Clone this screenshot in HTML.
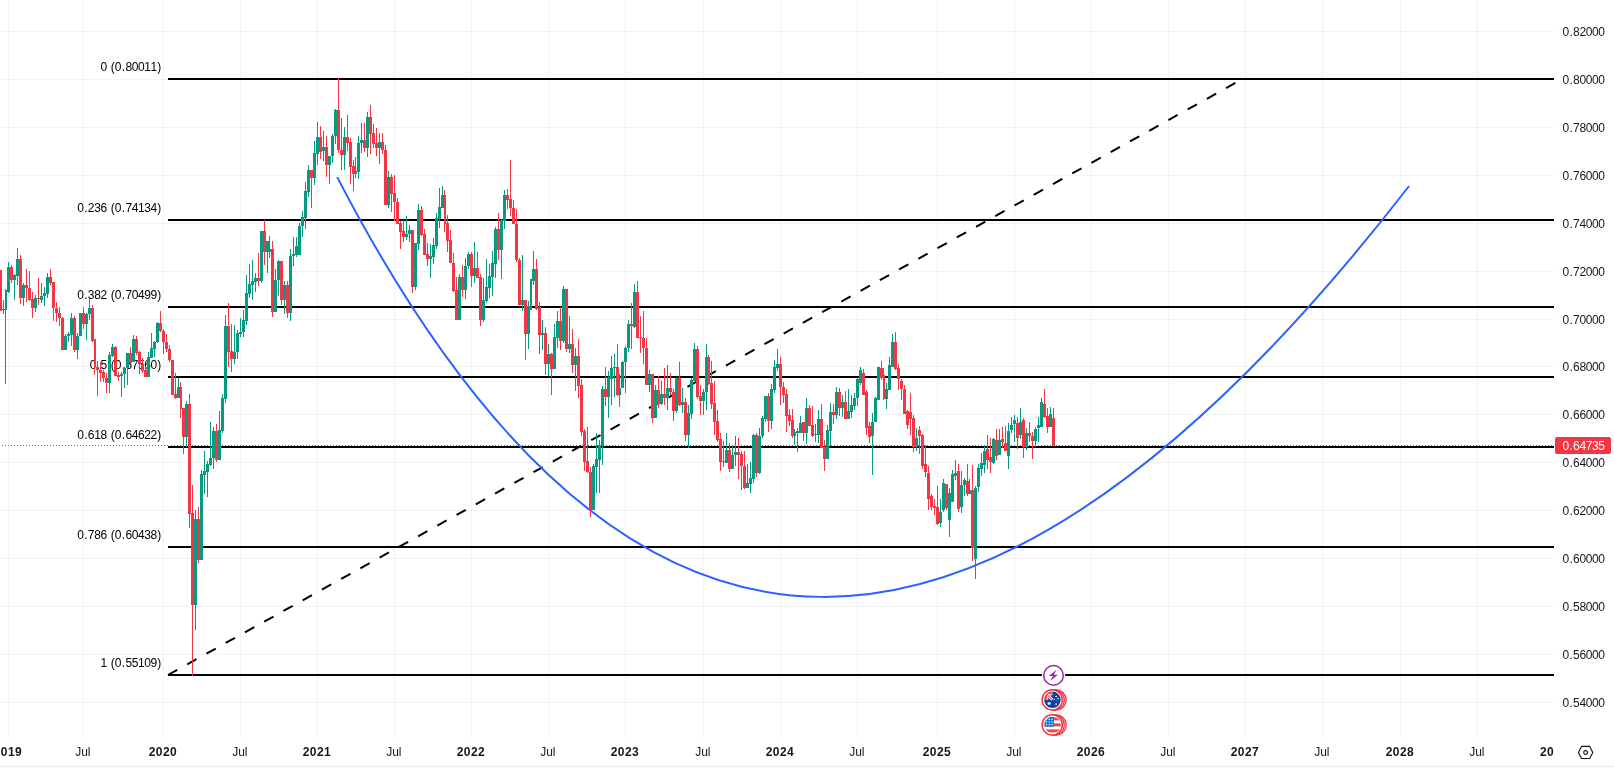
<!DOCTYPE html>
<html lang="en"><head><meta charset="utf-8"><title>AUDUSD chart</title>
<style>
html,body{margin:0;padding:0;background:#fff;}
body{width:1614px;height:773px;overflow:hidden;position:relative;font-family:"Liberation Sans",sans-serif;}
svg{position:absolute;left:0;top:0;display:block;will-change:transform}
text{font-family:"Liberation Sans",sans-serif;font-size:12px;fill:#131722}
.yr{font-weight:bold}
.fib{fill:#000}
</style></head><body>
<svg width="1614" height="773" viewBox="0 0 1614 773">
<rect width="1614" height="773" fill="#fff"/>
<g shape-rendering="crispEdges" fill="#2a2e39" fill-opacity="0.06">
<rect x="8" y="0" width="1" height="738"/>
<rect x="83" y="0" width="1" height="738"/>
<rect x="163" y="0" width="1" height="738"/>
<rect x="240" y="0" width="1" height="738"/>
<rect x="317" y="0" width="1" height="738"/>
<rect x="394" y="0" width="1" height="738"/>
<rect x="471" y="0" width="1" height="738"/>
<rect x="548" y="0" width="1" height="738"/>
<rect x="625" y="0" width="1" height="738"/>
<rect x="703" y="0" width="1" height="738"/>
<rect x="780" y="0" width="1" height="738"/>
<rect x="857" y="0" width="1" height="738"/>
<rect x="937" y="0" width="1" height="738"/>
<rect x="1014" y="0" width="1" height="738"/>
<rect x="1091" y="0" width="1" height="738"/>
<rect x="1168" y="0" width="1" height="738"/>
<rect x="1245" y="0" width="1" height="738"/>
<rect x="1322" y="0" width="1" height="738"/>
<rect x="1400" y="0" width="1" height="738"/>
<rect x="1477" y="0" width="1" height="738"/>
<rect x="0" y="31" width="1554" height="1"/>
<rect x="0" y="79" width="1554" height="1"/>
<rect x="0" y="127" width="1554" height="1"/>
<rect x="0" y="175" width="1554" height="1"/>
<rect x="0" y="223" width="1554" height="1"/>
<rect x="0" y="271" width="1554" height="1"/>
<rect x="0" y="319" width="1554" height="1"/>
<rect x="0" y="366" width="1554" height="1"/>
<rect x="0" y="414" width="1554" height="1"/>
<rect x="0" y="462" width="1554" height="1"/>
<rect x="0" y="510" width="1554" height="1"/>
<rect x="0" y="558" width="1554" height="1"/>
<rect x="0" y="606" width="1554" height="1"/>
<rect x="0" y="654" width="1554" height="1"/>
<rect x="0" y="702" width="1554" height="1"/>
</g>
<rect x="0" y="766" width="1614" height="1" fill="#eaeaeb" shape-rendering="crispEdges"/>
<line x1="2" y1="445.5" x2="170" y2="445.5" stroke="#f23645" stroke-width="1" stroke-dasharray="1 2" shape-rendering="crispEdges"/>
<line x1="171" y1="445.5" x2="1554" y2="445.5" stroke="#f23645" stroke-width="1" stroke-dasharray="1 2" shape-rendering="crispEdges"/>
<g id="fib">
<rect x="168" y="78" width="1386" height="2" fill="#000" shape-rendering="crispEdges"/>
<text class="fib" x="100.44 107.07 110.74 114.75 121.77 125.44 131.74 138.03 144.32 150.62 157.30" y="71">0 (0.80011)</text>
<rect x="168" y="219" width="1386" height="2" fill="#000" shape-rendering="crispEdges"/>
<text class="fib" x="77.16 84.18 87.86 94.15 100.44 107.07 110.74 114.75 121.77 125.44 131.74 138.03 144.32 150.62 157.30" y="212">0.236 (0.74134)</text>
<rect x="168" y="306" width="1386" height="2" fill="#000" shape-rendering="crispEdges"/>
<text class="fib" x="77.16 84.18 87.86 94.15 100.44 107.07 110.74 114.75 121.77 125.44 131.74 138.03 144.32 150.62 157.30" y="299">0.382 (0.70499)</text>
<rect x="168" y="376" width="1386" height="2" fill="#000" shape-rendering="crispEdges"/>
<text class="fib" x="89.75 96.77 100.44 107.07 110.74 114.75 121.77 125.44 131.74 138.03 144.32 150.62 157.30" y="369">0.5 (0.67560)</text>
<rect x="168" y="446" width="1386" height="2" fill="#000" shape-rendering="crispEdges"/>
<text class="fib" x="77.16 84.18 87.86 94.15 100.44 107.07 110.74 114.75 121.77 125.44 131.74 138.03 144.32 150.62 157.30" y="439">0.618 (0.64622)</text>
<rect x="168" y="546" width="1386" height="2" fill="#000" shape-rendering="crispEdges"/>
<text class="fib" x="77.16 84.18 87.86 94.15 100.44 107.07 110.74 114.75 121.77 125.44 131.74 138.03 144.32 150.62 157.30" y="539">0.786 (0.60438)</text>
<rect x="168" y="674" width="1386" height="2" fill="#000" shape-rendering="crispEdges"/>
<text class="fib" x="100.44 107.07 110.74 114.75 121.77 125.44 131.74 138.03 144.32 150.62 157.30" y="667">1 (0.55109)</text>
</g>
<line x1="168" y1="675" x2="1242.5" y2="79" stroke="#000" stroke-width="2" stroke-dasharray="10.6 11.4"/>
<path id="curve" d="M337.2,177.1 Q769.5,1012.2 1409.1,186" fill="none" stroke="#2962ff" stroke-width="2"/>
<g id="candles" shape-rendering="crispEdges">
<path fill="#f23645" d="M0 270h1v41h-1zM-1 270h3v41h-3z"/>
<path fill="#089981" d="M3 300h1v14h-1zM2 309h3v1h-3zM5 289h1v95h-1zM5 290h2v20h-2zM8 262h1v31h-1zM7 267h3v25h-3z"/>
<path fill="#f23645" d="M11 265h1v18h-1zM10 267h3v13h-3z"/>
<path fill="#089981" d="M14 274h1v26h-1zM13 275h3v5h-3zM17 248h1v37h-1zM16 259h3v17h-3z"/>
<path fill="#f23645" d="M20 255h1v49h-1zM19 259h3v39h-3z"/>
<path fill="#089981" d="M23 283h1v23h-1zM22 285h3v13h-3z"/>
<path fill="#f23645" d="M26 269h1v33h-1zM25 285h3v3h-3zM29 271h1v30h-1zM28 288h3v12h-3zM32 292h1v26h-1zM31 299h3v9h-3z"/>
<path fill="#089981" d="M35 295h1v17h-1zM34 298h3v10h-3z"/>
<path fill="#f23645" d="M38 278h1v27h-1zM37 298h3v1h-3z"/>
<path fill="#089981" d="M41 283h1v20h-1zM40 296h3v4h-3zM44 287h1v19h-1zM43 293h3v3h-3zM47 273h1v25h-1zM46 277h3v17h-3z"/>
<path fill="#f23645" d="M50 269h1v16h-1zM49 277h3v6h-3zM53 282h1v39h-1zM52 282h3v26h-3zM56 302h1v20h-1zM55 308h3v5h-3zM59 307h1v19h-1zM58 313h3v5h-3zM62 317h1v33h-1zM61 318h3v32h-3z"/>
<path fill="#089981" d="M65 334h1v16h-1zM64 336h3v14h-3zM68 332h1v10h-1zM67 334h3v2h-3zM71 313h1v33h-1zM70 318h3v17h-3z"/>
<path fill="#f23645" d="M74 316h1v36h-1zM73 318h3v32h-3z"/>
<path fill="#089981" d="M77 333h1v26h-1zM76 336h3v14h-3zM80 313h1v23h-1zM79 313h3v23h-3z"/>
<path fill="#f23645" d="M83 307h1v22h-1zM82 313h3v11h-3z"/>
<path fill="#089981" d="M86 313h1v27h-1zM85 314h3v10h-3zM89 298h1v22h-1zM88 308h3v6h-3z"/>
<path fill="#f23645" d="M92 305h1v37h-1zM91 308h3v33h-3zM94 339h1v36h-1zM94 339h2v28h-2zM97 361h1v35h-1zM96 367h3v3h-3zM100 362h1v20h-1zM99 370h3v3h-3zM103 370h1v12h-1zM102 372h3v6h-3zM106 373h1v20h-1zM105 378h3v5h-3z"/>
<path fill="#089981" d="M109 352h1v41h-1zM108 355h3v28h-3zM112 344h1v13h-1zM111 347h3v9h-3z"/>
<path fill="#f23645" d="M115 346h1v30h-1zM114 347h3v29h-3zM118 372h1v9h-1zM117 375h3v2h-3z"/>
<path fill="#089981" d="M121 372h1v25h-1zM120 374h3v2h-3zM124 367h1v21h-1zM123 368h3v6h-3zM127 353h1v32h-1zM126 353h3v15h-3z"/>
<path fill="#f23645" d="M130 347h1v17h-1zM129 353h3v10h-3z"/>
<path fill="#089981" d="M133 335h1v27h-1zM132 339h3v23h-3z"/>
<path fill="#f23645" d="M136 336h1v19h-1zM135 339h3v14h-3zM139 351h1v23h-1zM138 352h3v12h-3zM142 358h1v15h-1zM141 364h3v7h-3zM145 366h1v11h-1zM144 370h3v7h-3z"/>
<path fill="#089981" d="M148 352h1v25h-1zM147 357h3v20h-3zM151 333h1v25h-1zM150 348h3v10h-3zM154 341h1v16h-1zM153 342h3v7h-3zM157 322h1v21h-1zM156 323h3v19h-3z"/>
<path fill="#f23645" d="M160 311h1v21h-1zM159 323h3v8h-3zM163 329h1v25h-1zM162 331h3v11h-3zM166 334h1v18h-1zM165 342h3v7h-3zM169 345h1v17h-1zM168 349h3v11h-3zM172 360h1v35h-1zM171 360h3v35h-3zM175 373h1v26h-1zM174 394h3v4h-3z"/>
<path fill="#089981" d="M178 378h1v20h-1zM177 387h3v11h-3z"/>
<path fill="#f23645" d="M180 382h1v36h-1zM180 387h2v22h-2zM183 408h1v46h-1zM182 408h3v29h-3z"/>
<path fill="#089981" d="M186 401h1v46h-1zM185 404h3v33h-3z"/>
<path fill="#f23645" d="M189 394h1v134h-1zM188 404h3v110h-3zM192 485h1v191h-1zM191 513h3v92h-3z"/>
<path fill="#089981" d="M195 510h1v120h-1zM194 519h3v86h-3z"/>
<path fill="#f23645" d="M198 507h1v56h-1zM197 519h3v41h-3z"/>
<path fill="#089981" d="M201 470h1v90h-1zM200 474h3v86h-3zM204 451h1v43h-1zM203 471h3v4h-3zM207 461h1v36h-1zM206 464h3v8h-3zM210 422h1v44h-1zM209 458h3v7h-3zM213 427h1v42h-1zM212 431h3v27h-3z"/>
<path fill="#f23645" d="M216 424h1v38h-1zM215 431h3v29h-3z"/>
<path fill="#089981" d="M219 411h1v49h-1zM218 430h3v30h-3zM222 394h1v39h-1zM221 398h3v33h-3zM225 315h1v88h-1zM224 326h3v73h-3z"/>
<path fill="#f23645" d="M228 303h1v64h-1zM227 326h3v26h-3zM231 324h1v48h-1zM230 351h3v8h-3z"/>
<path fill="#089981" d="M234 325h1v39h-1zM233 352h3v7h-3zM237 330h1v29h-1zM236 333h3v19h-3zM240 318h1v19h-1zM239 332h3v2h-3zM243 310h1v27h-1zM242 320h3v12h-3zM246 275h1v50h-1zM245 293h3v28h-3zM249 264h1v34h-1zM248 284h3v10h-3zM252 260h1v40h-1zM251 281h3v4h-3zM255 273h1v19h-1zM254 278h3v4h-3z"/>
<path fill="#f23645" d="M258 253h1v33h-1zM257 278h3v3h-3z"/>
<path fill="#089981" d="M261 231h1v52h-1zM260 231h3v50h-3z"/>
<path fill="#f23645" d="M264 220h1v45h-1zM263 231h3v21h-3z"/>
<path fill="#089981" d="M267 241h1v32h-1zM266 241h3v11h-3zM269 236h1v22h-1zM269 249h2v3h-2z"/>
<path fill="#f23645" d="M272 241h1v76h-1zM271 249h3v63h-3z"/>
<path fill="#089981" d="M275 269h1v43h-1zM274 280h3v32h-3zM278 260h1v36h-1zM277 261h3v19h-3z"/>
<path fill="#f23645" d="M281 261h1v44h-1zM280 261h3v39h-3z"/>
<path fill="#089981" d="M284 281h1v33h-1zM283 285h3v15h-3z"/>
<path fill="#f23645" d="M287 281h1v37h-1zM286 285h3v28h-3z"/>
<path fill="#089981" d="M290 249h1v72h-1zM289 256h3v57h-3zM293 237h1v29h-1zM292 254h3v2h-3zM296 237h1v20h-1zM295 246h3v9h-3zM299 223h1v32h-1zM298 226h3v29h-3zM302 211h1v26h-1zM301 217h3v9h-3zM305 182h1v47h-1zM304 191h3v27h-3zM308 165h1v32h-1zM307 170h3v22h-3z"/>
<path fill="#f23645" d="M311 170h1v38h-1zM310 170h3v8h-3z"/>
<path fill="#089981" d="M314 141h1v44h-1zM313 153h3v25h-3zM317 122h1v43h-1zM316 137h3v17h-3z"/>
<path fill="#f23645" d="M320 126h1v33h-1zM319 137h3v15h-3z"/>
<path fill="#089981" d="M323 131h1v30h-1zM322 147h3v4h-3z"/>
<path fill="#f23645" d="M326 136h1v41h-1zM325 147h3v18h-3z"/>
<path fill="#089981" d="M329 156h1v28h-1zM328 156h3v9h-3zM332 134h1v29h-1zM331 136h3v20h-3zM335 109h1v35h-1zM334 110h3v26h-3z"/>
<path fill="#f23645" d="M338 78h1v75h-1zM337 110h3v40h-3zM341 118h1v52h-1zM340 150h3v5h-3z"/>
<path fill="#089981" d="M344 127h1v43h-1zM343 137h3v18h-3z"/>
<path fill="#f23645" d="M347 115h1v36h-1zM346 137h3v6h-3zM350 138h1v46h-1zM349 142h3v25h-3zM353 160h1v31h-1zM352 166h3v8h-3z"/>
<path fill="#089981" d="M355 157h1v21h-1zM355 171h2v3h-2zM358 136h1v43h-1zM357 143h3v29h-3zM361 123h1v30h-1zM360 140h3v3h-3z"/>
<path fill="#f23645" d="M364 123h1v29h-1zM363 140h3v8h-3z"/>
<path fill="#089981" d="M367 112h1v45h-1zM366 117h3v31h-3z"/>
<path fill="#f23645" d="M370 105h1v49h-1zM369 117h3v17h-3zM373 124h1v24h-1zM372 133h3v11h-3zM376 128h1v28h-1zM375 143h3v5h-3z"/>
<path fill="#089981" d="M379 133h1v31h-1zM378 142h3v6h-3z"/>
<path fill="#f23645" d="M382 133h1v21h-1zM381 142h3v8h-3zM385 145h1v60h-1zM384 150h3v55h-3z"/>
<path fill="#089981" d="M388 171h1v37h-1zM387 177h3v28h-3z"/>
<path fill="#f23645" d="M391 174h1v38h-1zM390 177h3v17h-3zM394 175h1v46h-1zM393 193h3v9h-3zM397 198h1v26h-1zM396 202h3v22h-3zM400 221h1v28h-1zM399 223h3v9h-3zM403 220h1v22h-1zM402 231h3v6h-3z"/>
<path fill="#089981" d="M406 216h1v24h-1zM405 234h3v3h-3zM409 225h1v17h-1zM408 230h3v4h-3z"/>
<path fill="#f23645" d="M412 230h1v63h-1zM411 230h3v57h-3z"/>
<path fill="#089981" d="M415 243h1v47h-1zM414 243h3v44h-3zM418 204h1v46h-1zM417 210h3v34h-3z"/>
<path fill="#f23645" d="M421 206h1v30h-1zM420 210h3v25h-3zM424 229h1v26h-1zM423 234h3v21h-3zM427 243h1v23h-1zM426 254h3v5h-3z"/>
<path fill="#089981" d="M430 244h1v34h-1zM429 256h3v3h-3zM433 238h1v26h-1zM432 245h3v12h-3zM436 213h1v36h-1zM435 218h3v28h-3zM439 188h1v40h-1zM438 207h3v12h-3zM442 186h1v22h-1zM441 195h3v13h-3z"/>
<path fill="#f23645" d="M444 190h1v42h-1zM444 195h2v29h-2zM447 215h1v37h-1zM446 223h3v18h-3zM450 230h1v33h-1zM449 240h3v23h-3zM453 253h1v39h-1zM452 263h3v28h-3zM456 277h1v43h-1zM455 290h3v30h-3z"/>
<path fill="#089981" d="M459 274h1v46h-1zM458 277h3v43h-3z"/>
<path fill="#f23645" d="M462 265h1v32h-1zM461 277h3v13h-3z"/>
<path fill="#089981" d="M465 258h1v41h-1zM464 266h3v24h-3zM468 252h1v17h-1zM467 254h3v12h-3z"/>
<path fill="#f23645" d="M471 252h1v35h-1zM470 254h3v22h-3z"/>
<path fill="#089981" d="M474 242h1v41h-1zM473 268h3v8h-3z"/>
<path fill="#f23645" d="M477 252h1v26h-1zM476 268h3v10h-3zM480 274h1v52h-1zM479 277h3v43h-3z"/>
<path fill="#089981" d="M483 278h1v44h-1zM482 300h3v20h-3zM486 259h1v44h-1zM485 287h3v14h-3zM489 264h1v34h-1zM488 276h3v12h-3zM492 251h1v45h-1zM491 263h3v14h-3zM495 227h1v51h-1zM494 229h3v35h-3z"/>
<path fill="#f23645" d="M498 213h1v47h-1zM497 229h3v21h-3z"/>
<path fill="#089981" d="M501 219h1v60h-1zM500 220h3v30h-3zM504 190h1v39h-1zM503 195h3v26h-3z"/>
<path fill="#f23645" d="M507 189h1v20h-1zM506 195h3v5h-3zM510 160h1v56h-1zM509 199h3v9h-3zM513 200h1v24h-1zM512 208h3v16h-3zM516 209h1v53h-1zM515 224h3v36h-3zM519 258h1v47h-1zM518 260h3v45h-3z"/>
<path fill="#089981" d="M522 255h1v56h-1zM521 300h3v5h-3z"/>
<path fill="#f23645" d="M525 300h1v60h-1zM524 300h3v34h-3z"/>
<path fill="#089981" d="M528 301h1v48h-1zM527 306h3v28h-3zM530 279h1v31h-1zM530 279h2v31h-2zM533 251h1v34h-1zM532 269h3v12h-3z"/>
<path fill="#f23645" d="M536 259h1v51h-1zM535 269h3v40h-3zM539 302h1v52h-1zM538 307h3v28h-3z"/>
<path fill="#089981" d="M542 320h1v30h-1zM541 333h3v2h-3z"/>
<path fill="#f23645" d="M545 327h1v48h-1zM544 333h3v31h-3z"/>
<path fill="#089981" d="M548 344h1v32h-1zM547 354h3v10h-3z"/>
<path fill="#f23645" d="M551 353h1v42h-1zM550 354h3v15h-3z"/>
<path fill="#089981" d="M554 324h1v45h-1zM553 337h3v32h-3zM557 311h1v37h-1zM556 321h3v17h-3z"/>
<path fill="#f23645" d="M560 307h1v43h-1zM559 321h3v20h-3z"/>
<path fill="#089981" d="M563 286h1v57h-1zM562 289h3v52h-3z"/>
<path fill="#f23645" d="M566 289h1v63h-1zM565 289h3v60h-3z"/>
<path fill="#089981" d="M569 316h1v37h-1zM568 344h3v5h-3z"/>
<path fill="#f23645" d="M572 329h1v44h-1zM571 344h3v21h-3z"/>
<path fill="#089981" d="M575 348h1v43h-1zM574 356h3v9h-3z"/>
<path fill="#f23645" d="M578 339h1v59h-1zM577 356h3v30h-3zM581 379h1v57h-1zM580 385h3v47h-3zM584 429h1v42h-1zM583 431h3v31h-3zM587 427h1v46h-1zM586 461h3v11h-3zM590 467h1v50h-1zM589 472h3v38h-3z"/>
<path fill="#089981" d="M593 464h1v46h-1zM592 466h3v44h-3zM596 433h1v60h-1zM595 459h3v8h-3zM599 440h1v53h-1zM598 445h3v15h-3zM602 386h1v79h-1zM601 389h3v57h-3z"/>
<path fill="#f23645" d="M605 367h1v39h-1zM604 389h3v8h-3z"/>
<path fill="#089981" d="M608 371h1v47h-1zM607 377h3v20h-3zM611 356h1v49h-1zM610 368h3v11h-3zM614 354h1v43h-1zM613 367h3v1h-3z"/>
<path fill="#f23645" d="M617 344h1v52h-1zM616 367h3v28h-3z"/>
<path fill="#089981" d="M619 374h1v33h-1zM619 388h2v7h-2zM622 361h1v27h-1zM621 362h3v26h-3zM625 346h1v47h-1zM624 348h3v14h-3zM628 320h1v32h-1zM627 324h3v24h-3z"/>
<path fill="#f23645" d="M631 303h1v46h-1zM630 324h3v2h-3z"/>
<path fill="#089981" d="M634 284h1v44h-1zM633 292h3v35h-3z"/>
<path fill="#f23645" d="M637 281h1v57h-1zM636 292h3v46h-3zM640 316h1v37h-1zM639 337h3v1h-3zM643 311h1v53h-1zM642 338h3v10h-3zM646 338h1v47h-1zM645 348h3v37h-3z"/>
<path fill="#089981" d="M649 370h1v22h-1zM648 374h3v11h-3z"/>
<path fill="#f23645" d="M652 374h1v49h-1zM651 374h3v44h-3z"/>
<path fill="#089981" d="M655 385h1v33h-1zM654 390h3v28h-3z"/>
<path fill="#f23645" d="M658 376h1v32h-1zM657 390h3v14h-3z"/>
<path fill="#089981" d="M661 381h1v24h-1zM660 394h3v10h-3z"/>
<path fill="#f23645" d="M664 368h1v37h-1zM663 394h3v4h-3z"/>
<path fill="#089981" d="M667 365h1v45h-1zM666 388h3v10h-3z"/>
<path fill="#f23645" d="M670 373h1v22h-1zM669 388h3v4h-3zM673 389h1v32h-1zM672 392h3v19h-3z"/>
<path fill="#089981" d="M676 377h1v36h-1zM675 378h3v33h-3z"/>
<path fill="#f23645" d="M679 362h1v44h-1zM678 378h3v27h-3z"/>
<path fill="#089981" d="M682 388h1v25h-1zM681 402h3v3h-3z"/>
<path fill="#f23645" d="M685 398h1v43h-1zM684 402h3v33h-3z"/>
<path fill="#089981" d="M688 405h1v43h-1zM687 413h3v22h-3zM691 378h1v41h-1zM690 380h3v34h-3zM694 343h1v38h-1zM693 349h3v32h-3z"/>
<path fill="#f23645" d="M697 346h1v53h-1zM696 349h3v48h-3zM700 385h1v30h-1zM699 396h3v5h-3z"/>
<path fill="#089981" d="M703 389h1v26h-1zM702 392h3v9h-3zM706 344h1v66h-1zM705 357h3v35h-3z"/>
<path fill="#f23645" d="M708 355h1v30h-1zM708 357h2v27h-2zM711 361h1v48h-1zM710 383h3v21h-3zM714 381h1v54h-1zM713 403h3v19h-3zM717 410h1v32h-1zM716 421h3v19h-3zM720 433h1v38h-1zM719 439h3v23h-3zM723 441h1v26h-1zM722 461h3v1h-3z"/>
<path fill="#089981" d="M726 433h1v30h-1zM725 450h3v13h-3z"/>
<path fill="#f23645" d="M729 443h1v29h-1zM728 450h3v19h-3z"/>
<path fill="#089981" d="M732 445h1v24h-1zM731 455h3v14h-3zM735 436h1v30h-1zM734 452h3v3h-3z"/>
<path fill="#f23645" d="M738 438h1v41h-1zM737 452h3v3h-3zM741 451h1v39h-1zM740 454h3v12h-3zM744 451h1v38h-1zM743 466h3v22h-3z"/>
<path fill="#089981" d="M747 464h1v24h-1zM746 483h3v5h-3zM750 462h1v31h-1zM749 478h3v6h-3zM753 434h1v49h-1zM752 435h3v44h-3z"/>
<path fill="#f23645" d="M756 433h1v44h-1zM755 435h3v38h-3z"/>
<path fill="#089981" d="M759 428h1v46h-1zM758 436h3v37h-3zM762 416h1v22h-1zM761 418h3v18h-3zM765 396h1v26h-1zM764 396h3v23h-3z"/>
<path fill="#f23645" d="M768 393h1v39h-1zM767 396h3v25h-3z"/>
<path fill="#089981" d="M771 384h1v45h-1zM770 389h3v32h-3zM774 360h1v33h-1zM773 367h3v23h-3zM777 349h1v22h-1zM776 364h3v4h-3z"/>
<path fill="#f23645" d="M780 357h1v48h-1zM779 364h3v23h-3zM783 382h1v21h-1zM782 387h3v8h-3zM786 389h1v43h-1zM785 394h3v22h-3zM789 409h1v17h-1zM788 415h3v6h-3zM792 409h1v29h-1zM791 420h3v16h-3z"/>
<path fill="#089981" d="M794 429h1v16h-1zM794 432h2v4h-2zM797 428h1v24h-1zM796 431h3v2h-3zM800 416h1v17h-1zM799 423h3v10h-3z"/>
<path fill="#f23645" d="M803 422h1v19h-1zM802 422h3v11h-3z"/>
<path fill="#089981" d="M806 398h1v46h-1zM805 408h3v25h-3z"/>
<path fill="#f23645" d="M809 405h1v21h-1zM808 408h3v18h-3zM812 406h1v31h-1zM811 425h3v11h-3z"/>
<path fill="#089981" d="M815 424h1v18h-1zM814 434h3v1h-3zM818 410h1v33h-1zM817 419h3v16h-3z"/>
<path fill="#f23645" d="M821 404h1v44h-1zM820 419h3v29h-3zM824 440h1v31h-1zM823 447h3v12h-3z"/>
<path fill="#089981" d="M827 425h1v34h-1zM826 430h3v29h-3zM830 403h1v43h-1zM829 412h3v19h-3z"/>
<path fill="#f23645" d="M833 404h1v20h-1zM832 412h3v3h-3z"/>
<path fill="#089981" d="M836 387h1v32h-1zM835 392h3v23h-3z"/>
<path fill="#f23645" d="M839 388h1v28h-1zM838 392h3v16h-3z"/>
<path fill="#089981" d="M842 395h1v22h-1zM841 402h3v6h-3z"/>
<path fill="#f23645" d="M845 391h1v28h-1zM844 402h3v17h-3z"/>
<path fill="#089981" d="M848 389h1v30h-1zM847 411h3v8h-3zM851 395h1v23h-1zM850 405h3v7h-3zM854 393h1v17h-1zM853 398h3v8h-3zM857 378h1v28h-1zM856 379h3v19h-3zM860 367h1v18h-1zM859 370h3v13h-3z"/>
<path fill="#f23645" d="M863 369h1v26h-1zM862 373h3v22h-3zM866 390h1v45h-1zM865 392h3v36h-3zM869 422h1v21h-1zM868 426h3v11h-3z"/>
<path fill="#089981" d="M872 413h1v62h-1zM871 422h3v14h-3zM875 397h1v25h-1zM874 398h3v24h-3zM878 367h1v33h-1zM877 367h3v33h-3z"/>
<path fill="#f23645" d="M881 361h1v19h-1zM880 368h3v10h-3zM883 368h1v32h-1zM883 375h2v24h-2z"/>
<path fill="#089981" d="M886 383h1v26h-1zM885 389h3v10h-3zM889 357h1v33h-1zM888 365h3v25h-3zM892 334h1v33h-1zM891 342h3v25h-3z"/>
<path fill="#f23645" d="M895 332h1v38h-1zM894 342h3v27h-3zM898 364h1v26h-1zM897 368h3v11h-3zM901 379h1v21h-1zM900 381h3v8h-3zM904 385h1v29h-1zM903 389h3v25h-3zM907 410h1v19h-1zM906 411h3v14h-3zM910 393h1v42h-1zM909 412h3v7h-3zM913 415h1v37h-1zM912 418h3v29h-3z"/>
<path fill="#089981" d="M916 428h1v23h-1zM915 438h3v9h-3z"/>
<path fill="#f23645" d="M919 426h1v28h-1zM918 430h3v6h-3zM922 434h1v35h-1zM921 435h3v31h-3zM925 445h1v32h-1zM924 464h3v8h-3zM928 466h1v44h-1zM927 473h3v26h-3zM931 494h1v16h-1zM930 496h3v11h-3zM934 499h1v16h-1zM933 506h3v2h-3zM937 486h1v39h-1zM936 507h3v17h-3z"/>
<path fill="#089981" d="M940 499h1v28h-1zM939 512h3v11h-3zM943 479h1v33h-1zM942 483h3v27h-3z"/>
<path fill="#f23645" d="M946 484h1v26h-1zM945 484h3v24h-3z"/>
<path fill="#089981" d="M949 488h1v49h-1zM948 493h3v27h-3zM952 470h1v32h-1zM951 474h3v28h-3zM955 460h1v20h-1zM954 473h3v3h-3z"/>
<path fill="#f23645" d="M958 464h1v48h-1zM957 471h3v38h-3z"/>
<path fill="#089981" d="M961 471h1v42h-1zM960 485h3v22h-3zM964 478h1v18h-1zM963 480h3v5h-3z"/>
<path fill="#f23645" d="M967 464h1v32h-1zM966 481h3v13h-3z"/>
<path fill="#089981" d="M969 479h1v15h-1zM969 490h2v4h-2z"/>
<path fill="#f23645" d="M972 465h1v96h-1zM971 490h3v58h-3z"/>
<path fill="#089981" d="M975 486h1v93h-1zM974 488h3v71h-3zM978 464h1v28h-1zM977 468h3v19h-3zM981 453h1v23h-1zM980 463h3v6h-3zM984 446h1v27h-1zM983 451h3v14h-3z"/>
<path fill="#f23645" d="M987 435h1v34h-1zM986 449h3v11h-3zM990 438h1v35h-1zM989 457h3v5h-3z"/>
<path fill="#089981" d="M993 438h1v26h-1zM992 439h3v24h-3z"/>
<path fill="#f23645" d="M996 429h1v31h-1zM995 440h3v16h-3z"/>
<path fill="#089981" d="M999 429h1v26h-1zM998 440h3v15h-3z"/>
<path fill="#f23645" d="M1002 427h1v21h-1zM1001 439h3v3h-3zM1005 426h1v25h-1zM1004 443h3v8h-3z"/>
<path fill="#089981" d="M1008 423h1v46h-1zM1007 431h3v25h-3zM1011 417h1v16h-1zM1010 425h3v5h-3zM1014 415h1v27h-1zM1013 420h3v4h-3z"/>
<path fill="#f23645" d="M1017 417h1v32h-1zM1016 423h3v15h-3z"/>
<path fill="#089981" d="M1020 408h1v31h-1zM1019 422h3v13h-3z"/>
<path fill="#f23645" d="M1023 418h1v40h-1zM1022 420h3v27h-3z"/>
<path fill="#089981" d="M1026 428h1v22h-1zM1025 433h3v14h-3z"/>
<path fill="#f23645" d="M1029 422h1v20h-1zM1028 433h3v3h-3zM1032 432h1v27h-1zM1031 436h3v5h-3z"/>
<path fill="#089981" d="M1035 427h1v20h-1zM1034 429h3v12h-3zM1038 417h1v25h-1zM1037 425h3v3h-3zM1041 398h1v29h-1zM1040 402h3v25h-3z"/>
<path fill="#f23645" d="M1044 389h1v29h-1zM1043 404h3v13h-3zM1047 408h1v25h-1zM1046 416h3v11h-3z"/>
<path fill="#089981" d="M1050 407h1v20h-1zM1049 414h3v13h-3z"/>
<path fill="#f23645" d="M1053 408h1v38h-1zM1052 418h3v28h-3z"/>
</g>
<g id="icons">
<defs>
<clipPath id="cf"><circle cx="0" cy="0" r="8.25"/></clipPath>
</defs>
<!-- lightning / latest-update marker -->
<g transform="translate(1053.5,675.4)">
<circle r="11.6" fill="#fff"/>
<circle r="9.8" fill="#fff" stroke="#9c27b0" stroke-width="1.5"/>
<path d="M3.0,-5.6 L-4.7,0.7 L-0.7,0.7 L-3.3,5.6 L4.4,-0.7 L0.4,-0.7 Z" fill="#9c27b0"/>
</g>
<!-- AU events -->
<g transform="translate(1052.2,699.95)">
<circle cx="3.8" r="10.15" fill="#fff" stroke="#f23645" stroke-width="1.2"/>
<circle cx="1.95" r="10.15" fill="#fff" stroke="#f23645" stroke-width="1.2"/>
<circle cx="1.2" r="8.2" fill="#7a5aa8" opacity="0.55"/>
<circle r="10.1" fill="#fff" stroke="#f23645" stroke-width="1.5"/>
<g transform="translate(0.2,-0.1)" clip-path="url(#cf)">
<rect x="-9" y="-9" width="18" height="18" fill="#1040a0"/>
<path d="M-9,-9 H0 V-4.6 H-4.2 V0 H-9 Z" fill="#fff"/>
<path d="M-9,-9 L0,0" stroke="#fff" stroke-width="2.8" fill="none"/>
<path d="M-9,-9 H0 V-5.6 H-5.2 V0 H-9 Z" fill="#f0534f"/>
<path d="M-9,-9 L-0.2,-0.2" stroke="#f0534f" stroke-width="1.1" fill="none"/>
<ellipse cx="-3.3" cy="3.7" rx="1.6" ry="1.3" fill="#fff"/>
<ellipse cx="3.7" cy="-3.4" rx="1.0" ry="0.6" fill="#fff"/>
<ellipse cx="5.6" cy="-1.3" rx="1.0" ry="0.6" fill="#fff"/>
<ellipse cx="1.8" cy="-0.5" rx="0.8" ry="0.55" fill="#fff"/>
<ellipse cx="4.5" cy="0.9" rx="0.7" ry="0.45" fill="#fff" opacity="0.5"/>
<ellipse cx="3.7" cy="4.3" rx="0.9" ry="0.8" fill="#fff" opacity="0.9"/>
</g>
</g>
<!-- US events -->
<g transform="translate(1052.2,724.9)">
<circle cx="3.8" r="10.15" fill="#fff" stroke="#f23645" stroke-width="1.2"/>
<circle cx="1.95" r="10.15" fill="#fff" stroke="#f23645" stroke-width="1.2"/>
<circle r="10.1" fill="#fff" stroke="#f23645" stroke-width="1.5"/>
<g transform="translate(0.4,0)" clip-path="url(#cf)">
<rect x="-9" y="-9" width="18" height="18" fill="#fff"/>
<rect x="-9" y="-7.7" width="18" height="3.1" fill="#ea4b46"/>
<rect x="-9" y="-1.6" width="18" height="3.1" fill="#ea4b46"/>
<rect x="-9" y="4.5" width="18" height="3.1" fill="#ea4b46"/>
<rect x="-9" y="-9" width="10.4" height="10.8" fill="#1976d2"/>
<g fill="#fff">
<rect x="-6.7" y="-6.1" width="1.2" height="1.2"/><rect x="-3.9" y="-6.1" width="1.2" height="1.2"/><rect x="-1.1" y="-6.1" width="1.2" height="1.2"/>
<rect x="-6.7" y="-3.65" width="1.2" height="1.2"/><rect x="-3.9" y="-3.65" width="1.2" height="1.2"/><rect x="-1.1" y="-3.65" width="1.2" height="1.2"/>
<rect x="-6.7" y="-1.0" width="1.2" height="1.2"/><rect x="-3.9" y="-1.0" width="1.2" height="1.2"/><rect x="-1.1" y="-1.0" width="1.2" height="1.2"/>
</g>
</g>
</g>
</g>

<g id="paxis">
<text x="1562.41 1569.42 1573.10 1579.40 1585.69 1591.98 1598.27" y="35.8">0.82000</text>
<text x="1562.41 1569.42 1573.10 1579.40 1585.69 1591.98 1598.27" y="83.8">0.80000</text>
<text x="1562.41 1569.42 1573.10 1579.40 1585.69 1591.98 1598.27" y="131.8">0.78000</text>
<text x="1562.41 1569.42 1573.10 1579.40 1585.69 1591.98 1598.27" y="179.8">0.76000</text>
<text x="1562.41 1569.42 1573.10 1579.40 1585.69 1591.98 1598.27" y="227.8">0.74000</text>
<text x="1562.41 1569.42 1573.10 1579.40 1585.69 1591.98 1598.27" y="275.8">0.72000</text>
<text x="1562.41 1569.42 1573.10 1579.40 1585.69 1591.98 1598.27" y="323.8">0.70000</text>
<text x="1562.41 1569.42 1573.10 1579.40 1585.69 1591.98 1598.27" y="370.8">0.68000</text>
<text x="1562.41 1569.42 1573.10 1579.40 1585.69 1591.98 1598.27" y="418.8">0.66000</text>
<text x="1562.41 1569.42 1573.10 1579.40 1585.69 1591.98 1598.27" y="466.8">0.64000</text>
<text x="1562.41 1569.42 1573.10 1579.40 1585.69 1591.98 1598.27" y="514.8">0.62000</text>
<text x="1562.41 1569.42 1573.10 1579.40 1585.69 1591.98 1598.27" y="562.8">0.60000</text>
<text x="1562.41 1569.42 1573.10 1579.40 1585.69 1591.98 1598.27" y="610.8">0.58000</text>
<text x="1562.41 1569.42 1573.10 1579.40 1585.69 1591.98 1598.27" y="658.8">0.56000</text>
<text x="1562.41 1569.42 1573.10 1579.40 1585.69 1591.98 1598.27" y="706.8">0.54000</text>
</g>
<rect x="1555" y="437" width="56" height="17" rx="2" fill="#f23645"/>
<text x="1562.41 1569.42 1573.10 1579.40 1585.69 1591.98 1598.27" y="449.6" style="fill:#fff">0.64735</text>
<g id="taxis">
<text x="-6.18 0.85 7.88 14.91" y="756" class="yr">2019</text>
<text x="82.8" y="756" text-anchor="middle">Jul</text>
<text x="148.82 155.85 162.88 169.91" y="756" class="yr">2020</text>
<text x="239.8" y="756" text-anchor="middle">Jul</text>
<text x="302.82 309.85 316.88 323.91" y="756" class="yr">2021</text>
<text x="393.8" y="756" text-anchor="middle">Jul</text>
<text x="456.82 463.85 470.88 477.91" y="756" class="yr">2022</text>
<text x="547.8" y="756" text-anchor="middle">Jul</text>
<text x="610.82 617.85 624.88 631.91" y="756" class="yr">2023</text>
<text x="702.8" y="756" text-anchor="middle">Jul</text>
<text x="765.82 772.85 779.88 786.91" y="756" class="yr">2024</text>
<text x="856.8" y="756" text-anchor="middle">Jul</text>
<text x="922.82 929.85 936.88 943.91" y="756" class="yr">2025</text>
<text x="1013.8" y="756" text-anchor="middle">Jul</text>
<text x="1076.82 1083.85 1090.88 1097.91" y="756" class="yr">2026</text>
<text x="1167.8" y="756" text-anchor="middle">Jul</text>
<text x="1230.82 1237.85 1244.88 1251.91" y="756" class="yr">2027</text>
<text x="1321.8" y="756" text-anchor="middle">Jul</text>
<text x="1385.82 1392.85 1399.88 1406.91" y="756" class="yr">2028</text>
<text x="1476.8" y="756" text-anchor="middle">Jul</text>
<text x="1540.08 1547.11" y="756" class="yr">20</text>
</g>
<g id="gear" fill="none" stroke="#131722" stroke-width="1.15" stroke-linejoin="round"><path d="M1581.5,746.4 H1589.7 L1592.8,752.45 L1589.7,758.5 H1581.5 L1578.4,752.45 Z"/><circle cx="1585.6" cy="752.45" r="1.9"/></g>
</svg>
</body></html>
